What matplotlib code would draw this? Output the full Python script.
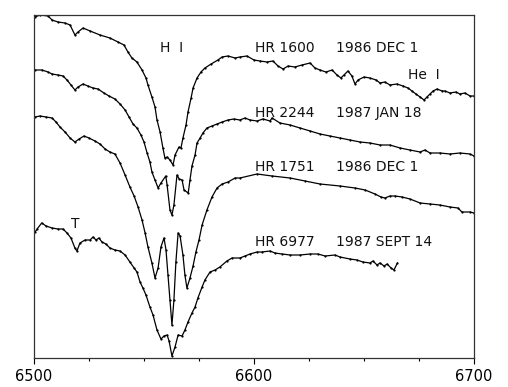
import matplotlib
matplotlib.use("Agg")
import matplotlib.pyplot as plt
from matplotlib.ticker import MultipleLocator

# Wavelength (Angstrom) and relative flux (arbitrary offset units)
wl_hr1600 = [6500.5, 6502.7, 6506.4, 6508.2, 6510.9, 6514.1, 6516.4, 6518.6, 6520.0, 6522.3,
             6525.5, 6530.0, 6534.5, 6538.2, 6540.9, 6542.7, 6544.5, 6546.8, 6549.1, 6550.9,
             6551.8, 6553.6, 6555.0, 6555.9, 6557.3, 6558.6, 6559.5, 6560.5, 6561.8, 6563.2,
             6564.1, 6565.9, 6566.8, 6567.7, 6569.1, 6570.0, 6571.4, 6572.3, 6574.1, 6575.9,
             6577.7, 6580.5, 6583.6, 6585.5, 6588.2, 6591.4, 6593.6, 6596.8, 6600.0, 6602.7,
             6605.9, 6608.6, 6610.9, 6613.2, 6615.5, 6618.6, 6621.8, 6625.5, 6627.7, 6630.0,
             6632.7, 6635.5, 6637.7, 6639.5, 6640.9, 6642.7, 6644.5, 6645.9, 6647.3, 6650.0,
             6652.7, 6655.5, 6657.3, 6659.5, 6661.8, 6665.0, 6667.7, 6670.0, 6671.8, 6673.6,
             6675.5, 6677.3, 6678.6, 6680.0, 6681.4, 6683.2, 6685.5, 6686.8, 6689.1, 6691.8,
             6693.6, 6695.9, 6698.2, 6700.0]
fl_hr1600 = [341, 343, 342, 338, 336, 335, 333, 323, 326, 330,
             327, 323, 320, 316, 313, 306, 300, 296, 288, 280,
             273, 261, 251, 238, 226, 210, 200, 201, 198, 193,
             203, 211, 210, 220, 233, 246, 260, 270, 280, 286,
             290, 294, 298, 301, 302, 300, 301, 302, 298, 297,
             296, 297, 292, 289, 292, 291, 293, 295, 290, 288,
             286, 288, 283, 280, 283, 287, 282, 274, 278, 281,
             280, 278, 275, 276, 273, 274, 272, 270, 267, 264,
             261, 258, 261, 264, 267, 269, 267, 267, 265, 266,
             264, 265, 262, 262]

wl_hr2244 = [6500.5, 6503.6, 6506.4, 6508.2, 6510.9, 6513.2, 6515.0, 6516.8, 6518.6, 6520.0,
             6522.3, 6524.5, 6526.8, 6529.1, 6531.8, 6534.1, 6536.8, 6539.1, 6541.4, 6543.2,
             6545.0, 6546.8, 6548.6, 6550.0, 6551.4, 6552.7, 6553.6, 6555.0, 6556.4, 6557.7,
             6559.9, 6560.5, 6561.8, 6562.7, 6563.6, 6565.0, 6566.0, 6567.3, 6568.2, 6570.1,
             6570.9, 6571.8, 6573.2, 6574.1, 6575.5, 6576.8, 6578.6, 6580.9, 6583.2, 6585.5,
             6588.2, 6590.9, 6593.6, 6595.9, 6598.2, 6601.4, 6604.1, 6607.3, 6608.2, 6611.8,
             6616.4, 6620.9, 6625.5, 6630.0, 6634.5, 6639.1, 6643.6, 6648.2, 6652.7, 6657.3,
             6661.8, 6666.4, 6670.9, 6675.5, 6677.7, 6680.0, 6684.5, 6689.1, 6693.6, 6698.2,
             6700.0]
fl_hr2244 = [288, 288, 286, 284, 283, 282, 278, 273, 268, 271,
             274, 272, 270, 269, 265, 262, 259, 254, 248, 241,
             234, 230, 223, 216, 205, 196, 186, 178, 170, 175,
             182, 173, 148, 143, 153, 183, 179, 178, 168, 165,
             178, 192, 203, 215, 220, 225, 230, 232, 234, 236,
             238, 239, 238, 240, 238, 237, 239, 237, 240, 235,
             233, 230, 227, 224, 222, 220, 218, 216, 215, 213,
             213, 210, 208, 206, 208, 205, 205, 204, 205, 204,
             202]

wl_hr1751 = [6500.5, 6502.7, 6505.5, 6508.2, 6510.0, 6511.8, 6514.1, 6516.4, 6518.6, 6520.5,
             6522.7, 6525.0, 6527.7, 6530.0, 6532.3, 6534.5, 6536.8, 6539.1, 6541.4, 6543.6,
             6545.5, 6547.3, 6549.1, 6550.5, 6551.8, 6553.6, 6555.0, 6556.4, 6557.7, 6559.1,
             6560.0, 6560.9, 6561.8, 6562.7, 6563.6, 6564.5, 6565.5, 6566.4, 6567.7, 6568.6,
             6569.5, 6570.9, 6572.3, 6573.6, 6575.0, 6576.4, 6578.6, 6580.9, 6583.2, 6585.5,
             6588.2, 6591.4, 6593.6, 6601.4, 6608.2, 6616.4, 6623.2, 6630.0, 6639.1, 6645.9,
             6650.5, 6655.0, 6657.7, 6659.5, 6661.8, 6664.1, 6667.3, 6670.9, 6675.5, 6680.0,
             6684.5, 6689.1, 6692.7, 6694.5, 6698.2, 6700.0]
fl_hr1751 = [241, 242, 241, 240, 236, 231, 226, 220, 216, 219,
             222, 220, 217, 214, 209, 206, 204, 195, 183, 171,
             162, 151, 138, 125, 111, 95, 80, 90, 111, 120,
             108, 83, 58, 33, 58, 96, 125, 122, 103, 83,
             70, 80, 92, 106, 118, 133, 148, 161, 170, 174,
             176, 180, 180, 184, 182, 180, 177, 174, 172, 170,
             168, 164, 161, 160, 162, 162, 161, 159, 155, 154,
             153, 151, 150, 146, 146, 145]

wl_hr6977 = [6500.5, 6501.4, 6503.5, 6505.5, 6508.2, 6510.9, 6513.2, 6515.0, 6516.8, 6518.6,
             6519.5, 6520.9, 6523.2, 6525.5, 6526.8, 6528.2, 6529.5, 6530.9, 6532.7, 6534.5,
             6536.8, 6539.1, 6541.4, 6543.6, 6545.5, 6546.8, 6548.2, 6549.5, 6550.9, 6552.7,
             6554.1, 6555.9, 6557.7, 6559.1, 6560.5, 6561.4, 6562.7, 6564.1, 6565.5, 6567.3,
             6568.6, 6570.0, 6571.8, 6573.2, 6574.5, 6576.4, 6577.7, 6580.0, 6582.3, 6584.5,
             6587.7, 6590.0, 6593.6, 6595.9, 6598.2, 6601.4, 6603.6, 6607.3, 6609.5, 6612.7,
             6616.4, 6620.9, 6625.5, 6629.1, 6632.3, 6636.8, 6639.1, 6643.6, 6646.8, 6649.5,
             6652.7, 6654.1, 6655.9, 6657.3, 6659.1, 6660.5, 6662.3, 6663.6, 6665.2]
fl_hr6977 = [126, 129, 135, 132, 130, 129, 129, 125, 120, 110,
             107, 115, 118, 118, 121, 118, 120, 116, 114, 110,
             108, 107, 103, 96, 90, 86, 76, 70, 63, 51,
             43, 28, 19, 22, 23, 17, 2, 11, 23, 22,
             28, 36, 45, 51, 60, 71, 78, 86, 88, 91,
             97, 100, 100, 102, 104, 106, 106, 107, 105, 104,
             103, 103, 104, 104, 102, 103, 101, 99, 98, 96,
             95, 97, 93, 95, 92, 94, 90, 88, 95]

spectra = [(wl_hr1600, fl_hr1600), (wl_hr2244, fl_hr2244),
           (wl_hr1751, fl_hr1751), (wl_hr6977, fl_hr6977)]

star_names = ["HR 1600", "HR 2244", "HR 1751", "HR 6977"]
obs_dates = ["1986 DEC 1", "1987 JAN 18", "1986 DEC 1", "1987 SEPT 14"]
label_levels = [310.5, 245, 191, 116]

x_ticks = [6500, 6600, 6700]

fig = plt.figure(figsize=(5.08, 3.87), dpi=100)
ax = fig.add_axes([34 / 508, 29 / 387, 440 / 508, 343 / 387])

for wl, fl in spectra:
    ax.plot(wl, fl, color="black", lw=0.9, marker="o", ms=1.6, mew=0)

for name, date, lev in zip(star_names, obs_dates, label_levels):
    ax.text(6600.5, lev, name, fontsize=10, va="center", ha="left", color="#111111")
    ax.text(6637.3, lev, date, fontsize=10, va="center", ha="left", color="#111111")

ax.text(6562.7, 310.5, "H  I", fontsize=10, va="center", ha="center", color="#111111")
ax.text(6677.3, 283, "He  I", fontsize=10, va="center", ha="center", color="#111111")
ax.text(6518.6, 134, "T", fontsize=10, va="center", ha="center", color="#111111")

ax.set_xlim(6500, 6700)
ax.set_ylim(0, 343)
ax.set_xticks(x_ticks)
ax.set_xticklabels([str(t) for t in x_ticks], fontsize=10.5)
ax.xaxis.set_minor_locator(MultipleLocator(25))
ax.tick_params(axis="x", which="major", direction="out", length=4, width=0.8, pad=4)
ax.tick_params(axis="x", which="minor", direction="out", length=2.5, width=0.8)
ax.set_yticks([])
for s in ax.spines.values():
    s.set_linewidth(0.9)
    s.set_color("#333333")

fig.savefig("out.png", dpi=100)
